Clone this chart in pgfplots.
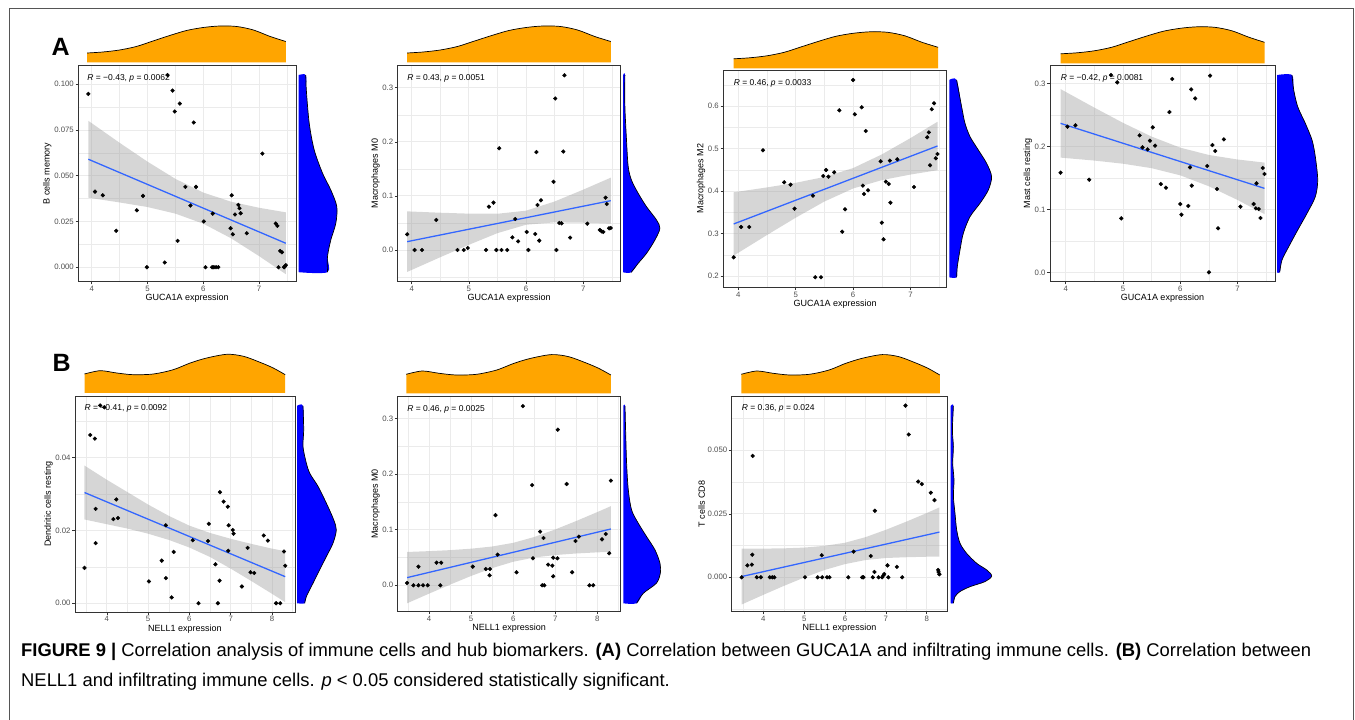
\documentclass[border=0pt]{standalone}
\usepackage{fontspec}
\setmainfont{Liberation Sans}
\usepackage{pgfplots}
\pgfplotsset{compat=1.18}
\definecolor{c20}{HTML}{333333}
\definecolor{c30}{HTML}{4D4D4D}
\definecolor{gridc}{HTML}{EBEBEB}
\definecolor{fitc}{HTML}{3366FF}
\definecolor{rib}{HTML}{999999}
\definecolor{orng}{HTML}{FFA500}
\definecolor{blu}{HTML}{0000FF}
\definecolor{frame}{HTML}{555555}
\pgfplotsset{
  mainax/.style={
    scale only axis, anchor=south west, clip=true,
    scaled ticks=false,
    axis line style={draw=c20, line width=0.7pt},
    tick align=outside, major tick length=2.8pt, minor tick length=0pt,
    tick style={c20, line width=0.6pt},
    xtick pos=left, ytick pos=left,
    grid=both,
    major grid style={draw=gridc, line width=0.9pt},
    minor grid style={draw=gridc, line width=0.45pt},
    ticklabel style={font=\fontsize{7.8}{8.5}\selectfont, text=c30},
    xticklabel style={inner sep=1.5pt},
    yticklabel style={inner sep=1.5pt},
    label style={font=\fontsize{9}{10}\selectfont},
    xlabel style={inner sep=1pt},
    ylabel style={inner sep=1pt},
  },
  orax/.style={scale only axis, anchor=south west, hide axis, ymin=0, ymax=45, height=45pt, clip=false, scaled ticks=false},
  blax/.style={scale only axis, anchor=south west, hide axis, xmin=0, xmax=45, width=45pt, clip=false, scaled ticks=false},
  fitline/.style={color=fitc, line width=1.3pt, no marks},
  ribbon/.style={fill=rib, fill opacity=0.4, draw=none, no marks},
  pts/.style={only marks, mark=*, mark size=1.9pt, black},
  ofill/.style={fill=orng, draw=none, no marks, smooth},
  bfill/.style={fill=blu, draw=none, no marks, smooth},
  dline/.style={black, line width=0.7pt, no marks, smooth},
}
\newcommand{\ann}{\fontsize{8.5}{9}\selectfont}
\begin{document}
\begin{tikzpicture}
\path[use as bounding box] (0pt,0pt) rectangle (1355pt,720pt);
\draw[frame, line width=1pt] (9pt,0pt) -- (9pt,711.5pt) -- (1353pt,711.5pt) -- (1353pt,0pt);
\node[anchor=base west, inner sep=0pt, font=\bfseries\fontsize{25}{25}\selectfont] at (51.5pt,664pt) {A};
\node[anchor=base west, inner sep=0pt, font=\bfseries\fontsize{25}{25}\selectfont] at (52.5pt,348pt) {B};

% ================= A1 =================
\begin{axis}[mainax, at={(78.3pt,438.3pt)}, width=217.7pt, height=216.7pt,
  xmin=3.76, xmax=7.663, ymin=-0.0079, ymax=0.1105,
  xtick={4,5,6,7}, xticklabels={4,5,6,7}, minor xtick={4.5,5.5,6.5,7.5},
  ytick={0,0.025,0.05,0.075,0.1}, yticklabels={0.000,0.025,0.050,0.075,0.100},
  minor ytick={0.0125,0.0375,0.0625,0.0875},
  xlabel={GUCA1A expression}, ylabel={B cells memory}]
\addplot[ribbon] coordinates {(3.94,0.0800)(4.5,0.0680)(5.0,0.0577)(5.5,0.0483)(6.0,0.0408)(6.5,0.0358)(7.0,0.0325)(7.48,0.0300)(7.48,-0.0038)(7.0,0.0061)(6.5,0.0158)(6.0,0.0238)(5.5,0.0293)(5.0,0.0329)(4.5,0.0354)(3.94,0.0380)};
\addplot[pts] coordinates {(3.94,0.0947)(4.06,0.0413)(4.20,0.0393)(4.44,0.0199)(4.81,0.0311)(4.92,0.0390)(4.99,0.0)(5.31,0.0026)(5.36,0.105)(5.45,0.0965)(5.49,0.0851)(5.54,0.0144)(5.58,0.0894)(5.68,0.0439)(5.77,0.0337)(5.83,0.0791)(5.87,0.0439)(6.01,0.0250)(6.04,0.0)(6.17,0.0293)(6.16,0.0)(6.19,0.0)(6.23,0.0)(6.27,0.0)(6.49,0.0213)(6.51,0.0393)(6.53,0.0180)(6.57,0.0288)(6.63,0.0341)(6.65,0.0322)(6.67,0.0295)(6.78,0.0186)(7.06,0.0621)(7.30,0.0239)(7.33,0.0226)(7.35,0.0)(7.38,0.0089)(7.41,0.0082)(7.45,0.0)(7.48,0.0011)(7.46,0.0004)};
\addplot[fitline] coordinates {(3.94,0.059)(7.48,0.0131)};
\node[anchor=north west, inner sep=0pt, font=\ann] at (axis cs:3.92,0.1055) {\textit{R} = −0.43, \textit{p} = 0.0062};
\end{axis}
\begin{axis}[orax, at={(78.3pt,657.5pt)}, width=217.7pt, xmin=3.76, xmax=7.663]
\addplot[ofill] coordinates {(3.92,9.5)(4.2,10.5)(4.5,12.5)(4.8,16)(5.1,21.5)(5.4,27)(5.7,32)(6.0,35)(6.3,36.5)(6.6,36)(6.9,32.5)(7.2,26)(7.48,21)} \closedcycle;
\addplot[dline] coordinates {(3.92,9.5)(4.2,10.5)(4.5,12.5)(4.8,16)(5.1,21.5)(5.4,27)(5.7,32)(6.0,35)(6.3,36.5)(6.6,36)(6.9,32.5)(7.2,26)(7.48,21)};
\end{axis}
\begin{axis}[blax, at={(298.5pt,438.3pt)}, height=216.7pt, ymin=-0.0079, ymax=0.1105]
\addplot[bfill] coordinates {(0,0.105)(7.3,0.105)(7.8,0.0969)(10.7,0.0787)(15.7,0.0641)(24,0.0514)(32.3,0.0422)(38.3,0.0331)(37.3,0.024)(32.3,0.0149)(29,0.0058)(29,-0.0027)(0,-0.0027)};
\addplot[dline] coordinates {(7.3,0.105)(7.8,0.0969)(10.7,0.0787)(15.7,0.0641)(24,0.0514)(32.3,0.0422)(38.3,0.0331)(37.3,0.024)(32.3,0.0149)(29,0.0058)(29,-0.0027)};
\end{axis}

% ================= A2 =================
\begin{axis}[mainax, at={(397.7pt,438.3pt)}, width=223pt, height=216.7pt,
  xmin=3.755, xmax=7.654, ymin=-0.0586, ymax=0.342,
  xtick={4,5,6,7}, xticklabels={4,5,6,7}, minor xtick={4.5,5.5,6.5,7.5},
  ytick={0,0.1,0.2,0.3}, yticklabels={0.0,0.1,0.2,0.3},
  minor ytick={-0.05,0.05,0.15,0.25},
  xlabel={GUCA1A expression}, ylabel={Macrophages M0}]
\addplot[ribbon] coordinates {(3.92,0.0714)(4.5,0.0689)(5.0,0.0672)(5.5,0.0670)(6.0,0.0727)(6.5,0.0897)(7.0,0.1116)(7.48,0.1337)(7.48,0.0487)(7.0,0.0504)(6.5,0.0511)(6.0,0.0467)(5.5,0.0312)(5.0,0.0096)(4.5,-0.0133)(3.92,-0.0406)};
\addplot[pts] coordinates {(3.92,0.029)(4.05,0.0)(4.18,0.0)(4.43,0.0555)(4.80,0)(4.91,0)(4.98,0.0037)(5.30,0)(5.35,0.080)(5.43,0.0875)(5.48,0)(5.53,0.188)(5.57,0)(5.67,0)(5.76,0.0234)(5.81,0.0573)(5.86,0.016)(6.01,0.0333)(6.04,0)(6.16,0.0296)(6.18,0.181)(6.20,0.0832)(6.23,0.0173)(6.26,0.0918)(6.48,0.126)(6.51,0.280)(6.53,0)(6.58,0.050)(6.62,0.0493)(6.65,0.182)(6.67,0.323)(6.77,0.0228)(7.07,0.0487)(7.29,0.037)(7.32,0.0345)(7.35,0.0333)(7.39,0.0967)(7.41,0.085)(7.45,0.040)(7.48,0.0407)};
\addplot[fitline] coordinates {(3.92,0.0154)(7.48,0.0912)};
\node[anchor=north west, inner sep=0pt, font=\ann] at (axis cs:3.92,0.325) {\textit{R} = 0.43, \textit{p} = 0.0051};
\end{axis}
\begin{axis}[orax, at={(397.7pt,657.5pt)}, width=223pt, xmin=3.755, xmax=7.654]
\addplot[ofill] coordinates {(3.92,9.5)(4.2,10.5)(4.5,12.5)(4.8,16)(5.1,21.5)(5.4,27)(5.7,32)(6.0,35)(6.3,36.5)(6.6,36)(6.9,32.5)(7.2,26)(7.48,21)} \closedcycle;
\addplot[dline] coordinates {(3.92,9.5)(4.2,10.5)(4.5,12.5)(4.8,16)(5.1,21.5)(5.4,27)(5.7,32)(6.0,35)(6.3,36.5)(6.6,36)(6.9,32.5)(7.2,26)(7.48,21)};
\end{axis}
\begin{axis}[blax, at={(623.2pt,438.3pt)}, height=216.7pt, ymin=-0.0586, ymax=0.342]
\addplot[bfill] coordinates {(0,0.3235)(1.7,0.3235)(1.7,0.265)(3.3,0.2033)(5,0.154)(8.3,0.129)(15,0.1047)(23.3,0.080)(33.3,0.0555)(36.7,0.040)(31.7,0.0185)(23.3,-0.0062)(15,-0.0246)(8,-0.0413)(0,-0.0413)};
\addplot[dline] coordinates {(1.7,0.3235)(1.7,0.265)(3.3,0.2033)(5,0.154)(8.3,0.129)(15,0.1047)(23.3,0.080)(33.3,0.0555)(36.7,0.040)(31.7,0.0185)(23.3,-0.0062)(15,-0.0246)(8,-0.0413)};
\end{axis}

% ================= A3 =================
\begin{axis}[mainax, at={(723.3pt,432.7pt)}, width=223.4pt, height=217.3pt,
  xmin=3.739, xmax=7.631, ymin=0.1734, ymax=0.6847,
  xtick={4,5,6,7}, xticklabels={4,5,6,7}, minor xtick={4.5,5.5,6.5,7.5},
  ytick={0.2,0.3,0.4,0.5,0.6}, yticklabels={0.2,0.3,0.4,0.5,0.6},
  minor ytick={0.25,0.35,0.45,0.55,0.65},
  xlabel={GUCA1A expression}, ylabel={Macrophages M2}]
\addplot[ribbon] coordinates {(3.92,0.3969)(4.5,0.4084)(5.0,0.4193)(5.5,0.4330)(6.0,0.4539)(6.5,0.4860)(7.0,0.5245)(7.47,0.5629)(7.47,0.4489)(7.0,0.4387)(6.5,0.4256)(6.0,0.4059)(5.5,0.3752)(5.0,0.3371)(4.5,0.2964)(3.92,0.2479)};
\addplot[pts] coordinates {(3.92,0.2439)(4.05,0.3153)(4.19,0.3153)(4.43,0.4957)(4.80,0.4204)(4.91,0.4149)(4.98,0.3584)(5.30,0.389)(5.34,0.197)(5.44,0.197)(5.48,0.4353)(5.53,0.4494)(5.57,0.4337)(5.67,0.4439)(5.76,0.5898)(5.81,0.3043)(5.86,0.3569)(6.00,0.6612)(6.03,0.5804)(6.15,0.5969)(6.17,0.4125)(6.19,0.3929)(6.22,0.5412)(6.26,0.4016)(6.48,0.4698)(6.50,0.3255)(6.53,0.2863)(6.57,0.4220)(6.62,0.4165)(6.64,0.4714)(6.65,0.3725)(6.77,0.4745)(7.06,0.4094)(7.29,0.5263)(7.32,0.5380)(7.34,0.4604)(7.37,0.5922)(7.41,0.6063)(7.44,0.4769)(7.47,0.4871)};
\addplot[fitline] coordinates {(3.92,0.3224)(7.47,0.5059)};
\node[anchor=north west, inner sep=0pt, font=\ann] at (axis cs:3.92,0.663) {\textit{R} = 0.46, \textit{p} = 0.0033};
\end{axis}
\begin{axis}[orax, at={(723.3pt,651.7pt)}, width=223.4pt, xmin=3.739, xmax=7.631]
\addplot[ofill] coordinates {(3.92,9.5)(4.2,10.5)(4.5,12.5)(4.8,16)(5.1,21.5)(5.4,27)(5.7,32)(6.0,35)(6.3,36.5)(6.6,36)(6.9,32.5)(7.2,26)(7.48,21)} \closedcycle;
\addplot[dline] coordinates {(3.92,9.5)(4.2,10.5)(4.5,12.5)(4.8,16)(5.1,21.5)(5.4,27)(5.7,32)(6.0,35)(6.3,36.5)(6.6,36)(6.9,32.5)(7.2,26)(7.48,21)};
\end{axis}
\begin{axis}[blax, at={(949.3pt,432.7pt)}, height=217.3pt, ymin=0.1734, ymax=0.6847]
\addplot[bfill] coordinates {(0,0.6612)(7.3,0.6612)(12.3,0.5984)(15.7,0.5592)(20.7,0.5278)(29,0.4965)(37.3,0.4651)(42.3,0.4337)(39,0.4024)(30.7,0.371)(20.7,0.3396)(14,0.3004)(10.7,0.2612)(8,0.222)(7.3,0.1969)(0,0.1969)};
\addplot[dline] coordinates {(7.3,0.6612)(12.3,0.5984)(15.7,0.5592)(20.7,0.5278)(29,0.4965)(37.3,0.4651)(42.3,0.4337)(39,0.4024)(30.7,0.371)(20.7,0.3396)(14,0.3004)(10.7,0.2612)(8,0.222)(7.3,0.1969)};
\end{axis}

% ================= A4 =================
\begin{axis}[mainax, at={(1050pt,438.3pt)}, width=225pt, height=216.7pt,
  xmin=3.726, xmax=7.653, ymin=-0.0149, ymax=0.3297,
  xtick={4,5,6,7}, xticklabels={4,5,6,7}, minor xtick={4.5,5.5,6.5,7.5},
  ytick={0,0.1,0.2,0.3}, yticklabels={0.0,0.1,0.2,0.3},
  minor ytick={0.05,0.15,0.25},
  xlabel={GUCA1A expression}, ylabel={Mast cells resting}]
\addplot[ribbon] coordinates {(3.91,0.2914)(4.5,0.2619)(5.0,0.2377)(5.5,0.2158)(6.0,0.1982)(6.5,0.1866)(7.0,0.1794)(7.47,0.1745)(7.47,0.0925)(7.0,0.1150)(6.5,0.1368)(6.0,0.1542)(5.5,0.1656)(5.0,0.1727)(4.5,0.1777)(3.91,0.1824)};
\addplot[pts] coordinates {(3.91,0.1585)(4.03,0.2316)(4.17,0.2337)(4.41,0.1473)(4.79,0.3137)(4.90,0.3021)(4.97,0.0858)(5.29,0.2178)(5.34,0.1987)(5.43,0.1955)(5.47,0.2093)(5.52,0.2305)(5.56,0.2014)(5.66,0.1404)(5.75,0.1346)(5.81,0.2549)(5.86,0.3074)(6.00,0.1086)(6.02,0.0917)(6.14,0.1055)(6.17,0.1669)(6.19,0.2909)(6.20,0.1378)(6.26,0.2766)(6.47,0.1690)(6.50,0.0)(6.52,0.3127)(6.56,0.2024)(6.61,0.1929)(6.64,0.1325)(6.66,0.0700)(6.76,0.2114)(7.05,0.1044)(7.28,0.1086)(7.33,0.1415)(7.32,0.1017)(7.37,0.1007)(7.40,0.0864)(7.44,0.1659)(7.47,0.1563)};
\addplot[fitline] coordinates {(3.91,0.2369)(7.47,0.1335)};
\node[anchor=north west, inner sep=0pt, font=\ann] at (axis cs:3.91,0.3155) {\textit{R} = −0.42, \textit{p} = 0.0081};
\end{axis}
\begin{axis}[orax, at={(1050pt,656.7pt)}, width=225pt, xmin=3.726, xmax=7.653]
\addplot[ofill] coordinates {(3.91,9.5)(4.2,10.5)(4.5,12.5)(4.8,16)(5.1,21.5)(5.4,27)(5.7,32)(6.0,35)(6.3,36.5)(6.6,36)(6.9,32.5)(7.2,26)(7.47,21)} \closedcycle;
\addplot[dline] coordinates {(3.91,9.5)(4.2,10.5)(4.5,12.5)(4.8,16)(5.1,21.5)(5.4,27)(5.7,32)(6.0,35)(6.3,36.5)(6.6,36)(6.9,32.5)(7.2,26)(7.47,21)};
\end{axis}
\begin{axis}[blax, at={(1277pt,438.3pt)}, height=216.7pt, ymin=-0.0149, ymax=0.3297]
\addplot[bfill] coordinates {(0,0.3137)(15,0.3137)(16.7,0.290)(20.7,0.2634)(28.3,0.2369)(35,0.2104)(38.3,0.1839)(40.7,0.1468)(38.3,0.1203)(30,0.0938)(20.7,0.0673)(11.7,0.0408)(5,0.0196)(2.7,0)(0,0)};
\addplot[dline] coordinates {(15,0.3137)(16.7,0.290)(20.7,0.2634)(28.3,0.2369)(35,0.2104)(38.3,0.1839)(40.7,0.1468)(38.3,0.1203)(30,0.0938)(20.7,0.0673)(11.7,0.0408)(5,0.0196)(2.7,0)};
\end{axis}

% ================= B1 =================
\begin{axis}[mainax, at={(75pt,108pt)}, width=220pt, height=216pt,
  xmin=3.23, xmax=8.557, ymin=-0.0024, ymax=0.0569,
  xtick={4,5,6,7,8}, xticklabels={4,5,6,7,8}, minor xtick={3.5,4.5,5.5,6.5,7.5,8.5},
  ytick={0,0.02,0.04}, yticklabels={0.00,0.02,0.04},
  minor ytick={0.01,0.03,0.05},
  xlabel={NELL1 expression}, ylabel={Dendritic cells resting}]
\addplot[ribbon] coordinates {(3.46,0.0378)(4.0,0.0339)(4.5,0.0305)(5.0,0.0271)(5.5,0.0240)(6.0,0.0213)(6.5,0.0193)(7.0,0.0177)(7.5,0.0163)(8.0,0.0150)(8.32,0.0143)(8.32,0.0003)(8.0,0.0026)(7.5,0.0061)(7.0,0.0095)(6.5,0.0127)(6.0,0.0153)(5.5,0.0174)(5.0,0.0191)(4.5,0.0205)(4.0,0.0217)(3.46,0.0230)};
\addplot[pts] coordinates {(3.46,0.0097)(3.60,0.0462)(3.71,0.0452)(3.73,0.0259)(3.73,0.0165)(3.84,0.0543)(3.94,0.0538)(4.16,0.0231)(4.23,0.0285)(4.27,0.0234)(5.02,0.0060)(5.33,0.0117)(5.43,0.0214)(5.43,0.0069)(5.57,0.0016)(5.62,0.0141)(6.08,0.0173)(6.22,0.0)(6.45,0.0171)(6.47,0.0218)(6.63,0.0107)(6.69,0.0)(6.73,0.0062)(6.74,0.0305)(6.83,0.0279)(6.93,0.0265)(6.94,0.0144)(6.95,0.0214)(7.05,0.0201)(7.07,0.0191)(7.27,0.0046)(7.41,0.0152)(7.48,0.0085)(7.57,0.0083)(7.80,0.0186)(7.90,0.0172)(8.10,0.0)(8.20,0.0)(8.29,0.0142)(8.32,0.0103)};
\addplot[fitline] coordinates {(3.46,0.0304)(8.32,0.0073)};
\node[anchor=north west, inner sep=0pt, font=\ann] at (axis cs:3.46,0.0545) {\textit{R} = −0.41, \textit{p} = 0.0092};
\end{axis}
\begin{axis}[orax, at={(75pt,327pt)}, width=220pt, xmin=3.23, xmax=8.557]
\addplot[ofill] coordinates {(3.46,19)(3.84,22.3)(4.24,20)(4.64,18.3)(5.13,19)(5.61,23.3)(6.02,30)(6.42,35)(6.91,38.7)(7.31,36.7)(7.71,30.7)(8.03,25)(8.32,18.3)} \closedcycle;
\addplot[dline] coordinates {(3.46,19)(3.84,22.3)(4.24,20)(4.64,18.3)(5.13,19)(5.61,23.3)(6.02,30)(6.42,35)(6.91,38.7)(7.31,36.7)(7.71,30.7)(8.03,25)(8.32,18.3)};
\end{axis}
\begin{axis}[blax, at={(297pt,108pt)}, height=216pt, ymin=-0.0024, ymax=0.0569]
\addplot[bfill] coordinates {(0,0.0542)(6,0.0542)(6.7,0.0476)(6,0.0430)(9.3,0.0385)(12.7,0.0357)(21,0.0321)(29.3,0.0275)(36.7,0.0229)(39.3,0.0201)(36,0.0165)(29.3,0.0128)(22.7,0.0092)(16,0.0055)(9.3,0.0018)(7.7,0)(0,0)};
\addplot[dline] coordinates {(6,0.0542)(6.7,0.0476)(6,0.0430)(9.3,0.0385)(12.7,0.0357)(21,0.0321)(29.3,0.0275)(36.7,0.0229)(39.3,0.0201)(36,0.0165)(29.3,0.0128)(22.7,0.0092)(16,0.0055)(9.3,0.0018)(7.7,0)};
\end{axis}

% ================= B2 =================
\begin{axis}[mainax, at={(397.7pt,108.3pt)}, width=223pt, height=215.7pt,
  xmin=3.257, xmax=8.554, ymin=-0.0474, ymax=0.3401,
  xtick={4,5,6,7,8}, xticklabels={4,5,6,7,8}, minor xtick={3.5,4.5,5.5,6.5,7.5,8.5},
  ytick={0,0.1,0.2,0.3}, yticklabels={0.0,0.1,0.2,0.3},
  minor ytick={0.05,0.15,0.25},
  xlabel={NELL1 expression}, ylabel={Macrophages M0}]
\addplot[ribbon] coordinates {(3.48,0.0599)(4.0,0.0614)(4.5,0.0632)(5.0,0.0658)(5.5,0.0697)(6.0,0.0763)(6.5,0.0868)(7.0,0.1004)(7.5,0.1156)(8.0,0.1316)(8.32,0.1422)(8.32,0.0602)(8.0,0.0592)(7.5,0.0572)(7.0,0.0544)(6.5,0.0500)(6.0,0.0423)(5.5,0.0309)(5.0,0.0168)(4.5,0.0012)(4.0,-0.0150)(3.48,-0.0323)};
\addplot[pts] coordinates {(3.48,0.0042)(3.63,0)(3.75,0.0335)(3.75,0)(3.86,0)(3.97,0)(4.18,0.0407)(4.27,0)(4.29,0.0407)(5.04,0.0335)(5.35,0.0293)(5.45,0.0293)(5.44,0.018)(5.58,0.126)(5.63,0.0551)(6.08,0.0234)(6.23,0.322)(6.45,0.180)(6.47,0.0485)(6.64,0.0964)(6.69,0)(6.74,0)(6.72,0.085)(6.83,0.0371)(6.93,0.0353)(6.95,0.0497)(6.95,0.0162)(7.05,0.0485)(7.06,0.2796)(7.27,0.182)(7.40,0.0234)(7.48,0.0796)(7.56,0.0874)(7.81,0)(7.90,0)(8.11,0.0826)(8.20,0.0922)(8.28,0.0575)(8.32,0.188)};
\addplot[fitline] coordinates {(3.48,0.0138)(8.32,0.1012)};
\node[anchor=north west, inner sep=0pt, font=\ann] at (axis cs:3.48,0.324) {\textit{R} = 0.46, \textit{p} = 0.0025};
\end{axis}
\begin{axis}[orax, at={(397.7pt,326.7pt)}, width=223pt, xmin=3.257, xmax=8.554]
\addplot[ofill] coordinates {(3.46,19)(3.84,22.3)(4.24,20)(4.64,18.3)(5.13,19)(5.61,23.3)(6.02,30)(6.42,35)(6.91,38.7)(7.31,36.7)(7.71,30.7)(8.03,25)(8.32,18.3)} \closedcycle;
\addplot[dline] coordinates {(3.46,19)(3.84,22.3)(4.24,20)(4.64,18.3)(5.13,19)(5.61,23.3)(6.02,30)(6.42,35)(6.91,38.7)(7.31,36.7)(7.71,30.7)(8.03,25)(8.32,18.3)};
\end{axis}
\begin{axis}[blax, at={(623.3pt,108.3pt)}, height=215.7pt, ymin=-0.0474, ymax=0.3401]
\addplot[bfill] coordinates {(0,0.3222)(1.7,0.3222)(2.3,0.279)(3.3,0.2192)(5,0.1713)(8.3,0.1353)(15,0.1114)(23.3,0.0874)(31.7,0.0635)(36.7,0.0395)(37,0.0216)(33,0.0036)(20,-0.0144)(13.3,-0.0323)(0,-0.0323)};
\addplot[dline] coordinates {(1.7,0.3222)(2.3,0.279)(3.3,0.2192)(5,0.1713)(8.3,0.1353)(15,0.1114)(23.3,0.0874)(31.7,0.0635)(36.7,0.0395)(37,0.0216)(33,0.0036)(20,-0.0144)(13.3,-0.0323)};
\end{axis}

% ================= B3 =================
\begin{axis}[mainax, at={(731.7pt,108.3pt)}, width=215.6pt, height=215.7pt,
  xmin=3.226, xmax=8.504, ymin=-0.01354, ymax=0.07138,
  xtick={4,5,6,7,8}, xticklabels={4,5,6,7,8}, minor xtick={3.5,4.5,5.5,6.5,7.5},
  ytick={0,0.025,0.05}, yticklabels={0.000,0.025,0.050},
  minor ytick={-0.0125,0.0125,0.0375,0.0625},
  xlabel={NELL1 expression}, ylabel={T cells CD8}]
\addplot[ribbon] coordinates {(3.47,0.0113)(4.0,0.0113)(4.5,0.0114)(5.0,0.0117)(5.5,0.0124)(6.0,0.0136)(6.5,0.0158)(7.0,0.0187)(7.5,0.0219)(8.0,0.0253)(8.31,0.0275)(8.31,0.0081)(8.0,0.0081)(7.5,0.0079)(7.0,0.0076)(6.5,0.0068)(6.0,0.0052)(5.5,0.0029)(5.0,-0.0001)(4.5,-0.0034)(4.0,-0.0069)(3.47,-0.0107)};
\addplot[pts] coordinates {(3.47,0)(3.61,0.0047)(3.72,0.0050)(3.73,0.0089)(3.74,0.0478)(3.84,0)(3.94,0)(4.16,0)(4.22,0)(4.27,0)(5.02,0)(5.33,0)(5.44,0)(5.43,0.0087)(5.56,0)(5.62,0)(6.08,0)(6.21,0.0101)(6.42,0)(6.45,0)(6.63,0.0084)(6.68,0)(6.73,0.0262)(6.72,0.0021)(6.82,0)(6.91,0)(6.94,0.0008)(6.96,0.0013)(7.04,0.0047)(7.06,0)(7.27,0.0041)(7.40,0)(7.48,0.0676)(7.56,0.0562)(7.79,0.0377)(7.88,0.0367)(8.10,0.0333)(8.19,0.0304)(8.28,0.0029)(8.29,0.0021)(8.31,0.0012)};
\addplot[fitline] coordinates {(3.47,0.0003)(8.31,0.0178)};
\node[anchor=north west, inner sep=0pt, font=\ann] at (axis cs:3.47,0.068) {\textit{R} = 0.36, \textit{p} = 0.024};
\end{axis}
\begin{axis}[orax, at={(731.7pt,326.7pt)}, width=215.6pt, xmin=3.226, xmax=8.504]
\addplot[ofill] coordinates {(3.46,19)(3.84,22.3)(4.24,20)(4.64,18.3)(5.13,19)(5.61,23.3)(6.02,30)(6.42,35)(6.91,38.7)(7.31,36.7)(7.71,30.7)(8.03,25)(8.32,18.3)} \closedcycle;
\addplot[dline] coordinates {(3.46,19)(3.84,22.3)(4.24,20)(4.64,18.3)(5.13,19)(5.61,23.3)(6.02,30)(6.42,35)(6.91,38.7)(7.31,36.7)(7.71,30.7)(8.03,25)(8.32,18.3)};
\end{axis}
\begin{axis}[blax, at={(950.7pt,108.3pt)}, height=215.7pt, ymin=-0.01354, ymax=0.07138]
\addplot[bfill] coordinates {(0,0.0675)(2.7,0.0675)(1.7,0.058)(2.7,0.0514)(2,0.0449)(3.3,0.0383)(2.7,0.0318)(4.3,0.0252)(6,0.0186)(9.3,0.0134)(16,0.0094)(26,0.0055)(36,0.0029)(41,0.0005)(34.3,-0.0017)(19.3,-0.0037)(9.3,-0.0056)(4.3,-0.0076)(2.7,-0.0102)(0,-0.0102)};
\addplot[dline] coordinates {(2.7,0.0675)(1.7,0.058)(2.7,0.0514)(2,0.0449)(3.3,0.0383)(2.7,0.0318)(4.3,0.0252)(6,0.0186)(9.3,0.0134)(16,0.0094)(26,0.0055)(36,0.0029)(41,0.0005)(34.3,-0.0017)(19.3,-0.0037)(9.3,-0.0056)(4.3,-0.0076)(2.7,-0.0102)};
\end{axis}

% ================= caption =================
\node[anchor=base west, inner sep=0pt, font=\fontsize{18.4}{21}\selectfont] at (21pt,63pt) {\textbf{FIGURE 9 |} Correlation analysis of immune cells and hub biomarkers. \textbf{(A)} Correlation between GUCA1A and infiltrating immune cells. \textbf{(B)} Correlation between};
\node[anchor=base west, inner sep=0pt, font=\fontsize{18.4}{21}\selectfont] at (21pt,33pt) {NELL1 and infiltrating immune cells. \textit{p} < 0.05 considered statistically significant.};
\end{tikzpicture}
\end{document}
